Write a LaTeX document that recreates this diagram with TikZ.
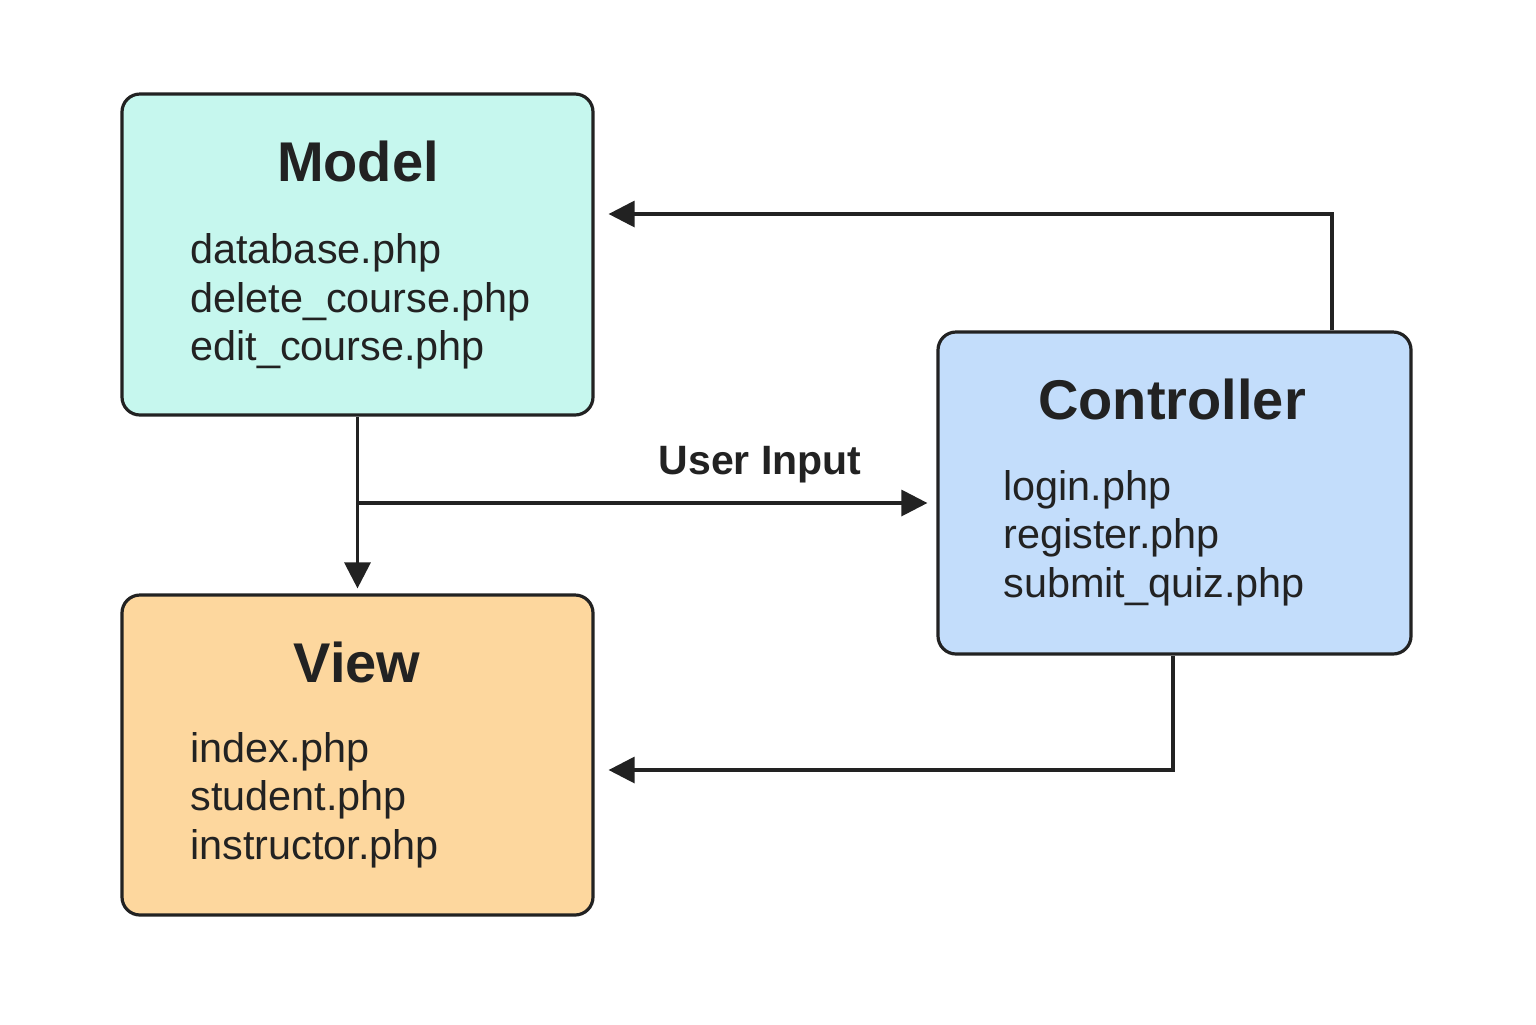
\documentclass[tikz,border=0pt]{standalone}
\usepackage{fontspec}
\setmainfont{Liberation Sans}
\usetikzlibrary{arrows.meta}
\definecolor{edge}{HTML}{222222}
\definecolor{modelfill}{HTML}{C6F7EE}
\definecolor{viewfill}{HTML}{FDD79E}
\definecolor{ctrlfill}{HTML}{C3DDFB}
\begin{document}
\begin{tikzpicture}[x=0.5pt,y=-0.5pt,
  box/.style={draw=edge,line width=1.6pt,rounded corners=9pt,inner sep=0pt},
  title/.style={font=\bfseries\fontsize{28}{32}\selectfont,text=edge,anchor=base,inner sep=0pt},
  item/.style={font=\fontsize{20.7}{24}\selectfont,text=edge,anchor=base west,inner sep=0pt},
  arr/.style={draw=edge,line width=1.6pt,-{Triangle[length=13pt,width=13pt]}},
  lbl/.style={font=\bfseries\fontsize{20.5}{24}\selectfont,text=edge,inner sep=0pt}]
\useasboundingbox[fill=white] (0,0) rectangle (1536,1024);
% boxes
\node[box,fill=modelfill,minimum width=235.5pt,minimum height=160.5pt] (model) at (357.5,254.5) {};
\node[box,fill=viewfill,minimum width=235.5pt,minimum height=160pt] (view) at (357.5,755) {};
\node[box,fill=ctrlfill,minimum width=236.5pt,minimum height=161pt] (ctrl) at (1174.5,493) {};
% titles
\node[title] (mt) at (358,181) {Model};
\node[title] (vt) at (357,682) {View};
\node[title] (ct) at (1172,419) {Controller};
% items
\node[item] (m1) at (190,263) {database.php};
\node[item] (m2) at (190,312) {delete\_course.php};
\node[item] (m3) at (190,360) {edit\_course.php};
\node[item] (v1) at (190,762) {index.php};
\node[item] (v2) at (190,810) {student.php};
\node[item] (v3) at (190,859) {instructor.php};
\node[item] (c1) at (1003,500) {login.php};
\node[item] (c2) at (1003,548) {register.php};
\node[item] (c3) at (1003,597) {submit\_quiz.php};
% connectors
\coordinate (topc) at (1332,214);
\coordinate (jn) at (357.5,503);
\coordinate (botc) at (1173,770);
\draw[arr,shorten >=7pt] (ctrl.north -| topc) -- (topc) -- (model.east |- topc);
\draw[arr,shorten >=2.5pt] (model.south) -- (view.north);
\draw[arr,shorten >=4.5pt] (jn) -- (ctrl.west |- jn);
\draw[arr,shorten >=7pt] (ctrl.south -| botc) -- (botc) -- (view.east |- botc);
\node[lbl] (ui) at (760,465) {User Input};
\end{tikzpicture}
\end{document}
